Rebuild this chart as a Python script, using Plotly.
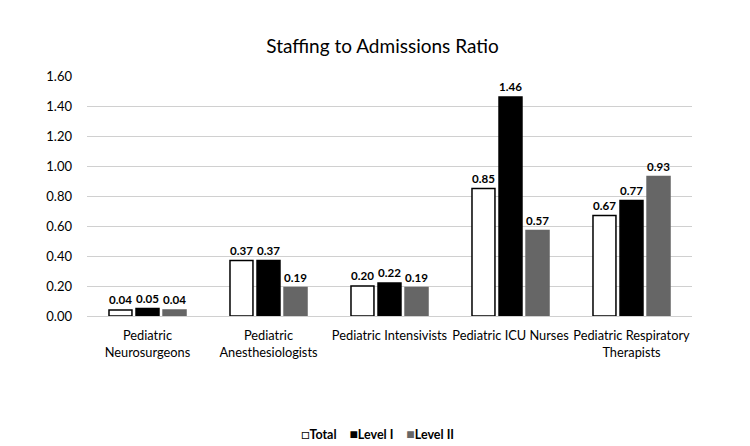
import plotly.graph_objects as go

categories = ["Pediatric<br>Neurosurgeons", "Pediatric<br>Anesthesiologists",
              "Pediatric Intensivists", "Pediatric ICU Nurses",
              "Pediatric Respiratory<br>Therapists"]
total = [0.04, 0.37, 0.20, 0.85, 0.67]
level1 = [0.05, 0.37, 0.22, 1.46, 0.77]
level2 = [0.04, 0.19, 0.19, 0.57, 0.93]
series_names = ["Total", "Level I", "Level II"]

FONT = "Lato"
fills = ["white", "black", "#666666"]
lines = ["black", "black", "#666666"]

fig = go.Figure()
for name, vals, fill, line in zip(series_names, [total, level1, level2], fills, lines):
    fig.add_trace(go.Bar(
        name=name, x=categories, y=vals,
        marker=dict(color=fill, line=dict(color=line, width=1.5)),
        texttemplate="<b>%{y:.2f}</b>",
        textposition="outside",
        textfont=dict(family=FONT, size=12, color="black"),
        cliponaxis=False, showlegend=False,
    ))

sq_colors = ["black", "black", "#666666"]
sq_chars = ["□", "■", "■"]
legend_text = "\u00a0\u00a0\u00a0\u00a0".join(
    f"<span style='color:{c};font-size:14px'>{s}</span><b>{n}</b>"
    for c, s, n in zip(sq_colors, sq_chars, series_names))

fig.update_layout(
    width=750, height=446,
    margin=dict(l=87, r=58, t=76, b=130),
    paper_bgcolor="white", plot_bgcolor="white",
    font=dict(family=FONT, size=13, color="black"),
    title=dict(text="Staffing to Admissions Ratio", x=0.51, xref="container", xanchor="center",
               y=0.895, yanchor="middle", font=dict(family=FONT, size=19, color="black")),
    barmode="group", bargap=0.33, bargroupgap=0.15,
    showlegend=False,
    annotations=[dict(text=legend_text, xref="paper", yref="paper", x=0.48, y=-0.4875,
                      xanchor="center", yanchor="middle", showarrow=False,
                      font=dict(family=FONT, size=12.5, color="black"))],
)
fig.update_yaxes(range=[0, 1.6], dtick=0.2, tickformat=".2f", showgrid=True,
                 gridcolor="#d0d0d0", gridwidth=1, zeroline=False, showline=False,
                 ticks="", ticklabelstandoff=14, tickfont=dict(family=FONT, size=13))
fig.update_xaxes(showline=True, linecolor="#d0d0d0", linewidth=1, ticks="",
                 tickangle=0, ticklabelstandoff=8, tickfont=dict(family=FONT, size=12.8))

fig.write_html("out.html")
